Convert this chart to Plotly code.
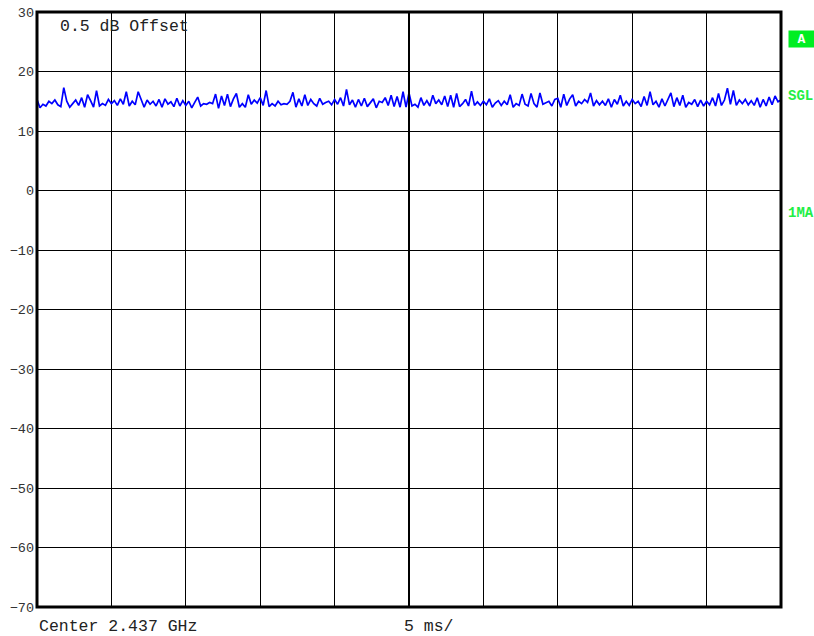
import plotly.graph_objects as go

# Trace levels (dB) per division, 25 samples each, plus final point
div1 = [15.3,13.9,14.5,14.2,15.0,14.6,15.2,14.4,14.1,17.3,15.0,14.0,14.6,15.2,14.3,15.6,14.0,16.1,15.1,14.0,16.8,14.2,14.6,14.3,15.3]
div2 = [14.6,15.1,14.3,15.4,14.5,16.6,14.2,15.0,14.4,16.6,15.3,14.0,15.2,14.5,15.0,14.2,15.3,14.0,15.4,14.5,14.9,14.1,15.5,14.2,15.1]
div3 = [14.3,15.0,13.9,14.8,15.7,14.2,14.6,14.5,14.8,14.6,16.2,13.8,15.9,14.3,16.2,14.1,15.4,16.3,14.0,14.6,14.0,16.1,14.5,15.2,14.7]
div4 = [15.6,14.3,16.8,14.1,14.6,14.2,15.0,14.4,14.6,14.5,15.0,16.5,14.0,15.4,14.2,16.1,14.3,15.3,14.6,14.2,15.5,14.5,14.8,15.0,14.4]
div5 = [15.3,14.5,15.6,14.2,17.0,14.4,15.2,14.0,15.3,14.2,15.5,14.1,14.7,15.4,13.9,15.0,14.8,15.6,14.3,16.0,14.1,15.8,14.0,16.6,14.0]
div6 = [16.4,14.2,14.5,14.0,15.6,14.3,15.1,14.2,16.0,14.6,15.2,14.4,15.9,14.1,16.0,14.0,16.3,14.1,14.6,15.3,14.2,16.7,14.3,14.9,14.3]
div7 = [15.0,14.4,15.4,14.0,14.7,15.1,14.3,15.0,14.4,16.1,14.0,14.6,14.3,16.2,14.5,14.2,16.3,14.6,14.0,16.4,14.5,14.8,15.0,14.2,15.3]
div8 = [15.5,14.0,16.2,14.3,15.4,16.1,14.2,15.0,14.6,15.3,14.8,16.4,14.2,15.1,14.4,15.0,14.3,15.4,14.0,15.3,14.5,16.0,14.2,15.0,14.3]
div9 = [15.3,14.6,15.0,14.1,15.8,14.3,16.6,14.4,15.0,14.0,15.4,14.2,15.2,16.4,14.1,15.6,14.3,16.0,14.0,14.8,14.5,15.3,14.1,15.2,14.2]
div10 = [15.0,14.4,15.6,14.2,16.3,14.3,15.2,17.2,14.5,16.8,14.3,15.2,14.6,15.3,14.4,15.1,14.3,15.6,14.0,15.3,14.2,15.7,14.4,15.9,14.9]
last_point = [15.2]

levels = div1 + div2 + div3 + div4 + div5 + div6 + div7 + div8 + div9 + div10 + last_point
sweep_ms = 50.0
times = [i * sweep_ms / (len(levels) - 1) for i in range(len(levels))]

y_ticks = [30, 20, 10, 0, -10, -20, -30, -40, -50, -60, -70]

fig = go.Figure()
fig.add_trace(go.Scatter(x=times, y=levels, mode="lines",
                         line=dict(color="#0000ff", width=1.7), hoverinfo="skip"))

mono = "Liberation Mono, Courier New, monospace"

fig.update_layout(
    width=814, height=636,
    margin=dict(l=37, r=33, t=12, b=29, autoexpand=False),
    paper_bgcolor="white", plot_bgcolor="white",
    showlegend=False,
    xaxis=dict(range=[0, 50], dtick=5, tick0=0, showgrid=True, gridcolor="black",
               gridwidth=1, showticklabels=False, zeroline=False, ticks="",
               showline=False, automargin=False),
    yaxis=dict(range=[-70, 30], tickvals=y_ticks, showgrid=True, gridcolor="black",
               gridwidth=1, zeroline=False, ticks="", showline=False, automargin=False,
               tickfont=dict(family=mono, size=13.5, color="#333333"),
               ticklabelstandoff=2),
    shapes=[
        dict(type="line", xref="x", yref="paper", x0=25, x1=25, y0=0, y1=1,
             line=dict(color="black", width=2)),
        dict(type="rect", xref="paper", yref="paper", x0=0, x1=1, y0=0, y1=1,
             line=dict(color="black", width=3)),
    ],
    annotations=[
        dict(text="0.5 dB Offset", xref="paper", yref="paper", x=21/744, y=1-14/595,
             xanchor="left", yanchor="middle", showarrow=False,
             font=dict(family=mono, size=16.5, color="#222222")),
        dict(text="Center 2.437 GHz", xref="paper", yref="paper", x=0, y=-19.5/595,
             xanchor="left", yanchor="middle", showarrow=False,
             font=dict(family=mono, size=16.5, color="#222222")),
        dict(text="5 ms/", xref="paper", yref="paper", x=(402-37)/744, y=-19.5/595,
             xanchor="left", yanchor="middle", showarrow=False,
             font=dict(family=mono, size=16.5, color="#222222")),
        dict(text="<b>A</b>", xref="paper", yref="paper", x=(788-37)/744, y=1-(39-12)/595,
             xanchor="left", yanchor="middle", showarrow=False, bgcolor="#00ee22",
             borderpad=0, width=25, height=16,
             font=dict(family=mono, size=13, color="white")),
        dict(text="<b>SGL</b>", xref="paper", yref="paper", x=(786-37)/744, y=1-(96-12)/595,
             xanchor="left", yanchor="middle", showarrow=False,
             font=dict(family=mono, size=14, color="#22ee44")),
        dict(text="<b>1MA</b>", xref="paper", yref="paper", x=(786-37)/744, y=1-(213-12)/595,
             xanchor="left", yanchor="middle", showarrow=False,
             font=dict(family=mono, size=14, color="#22ee44")),
    ],
)

fig.write_html("out.html", config={"displayModeBar": False},
               post_script="document.body.style.margin='0';document.body.style.overflow='hidden';")
